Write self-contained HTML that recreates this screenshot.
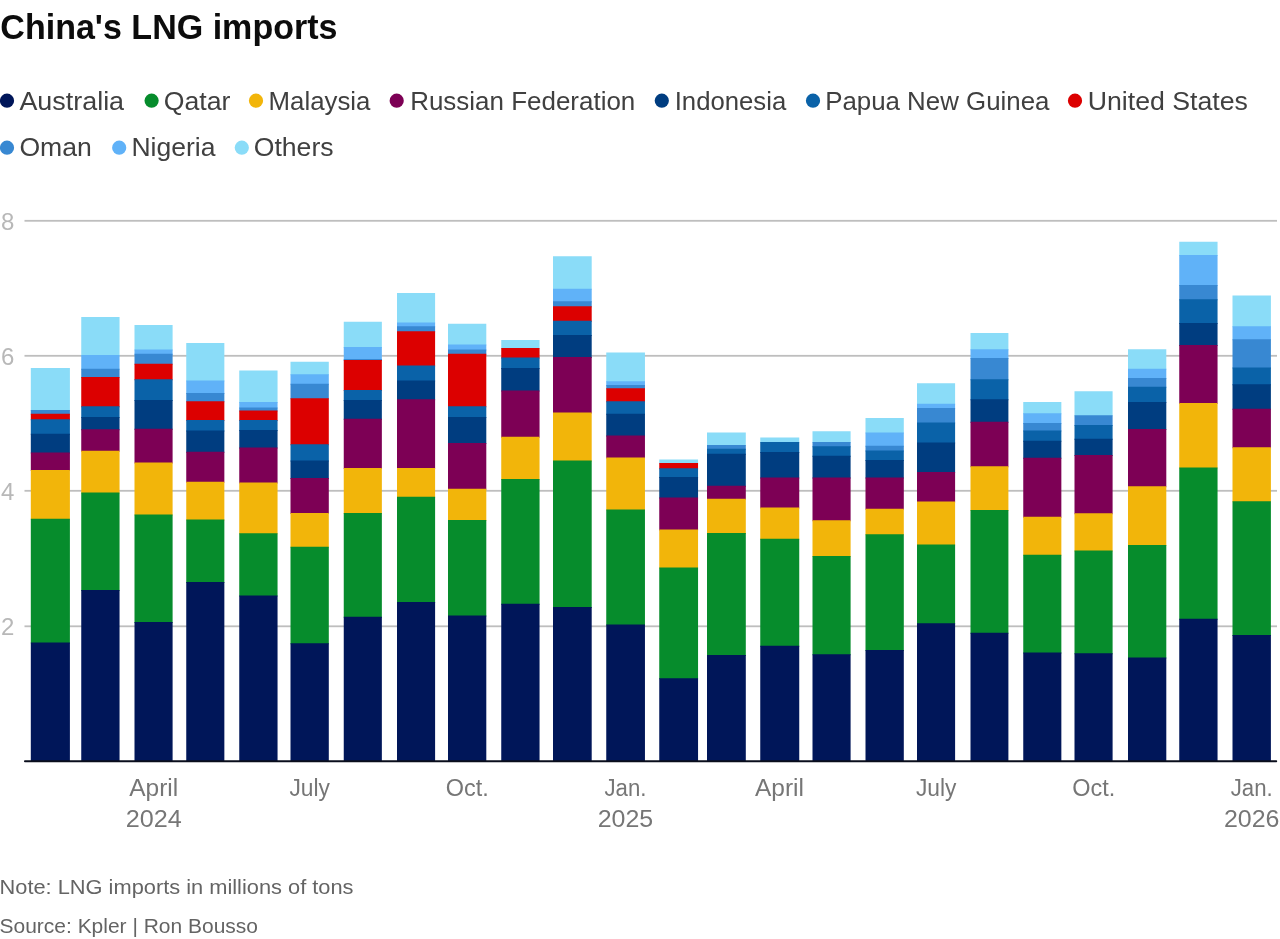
<!DOCTYPE html>
<html lang="en"><head><meta charset="utf-8"><title>China's LNG imports</title>
<style>
html,body{margin:0;padding:0;background:#fff;}
body{width:1280px;height:939px;overflow:hidden;font-family:"Liberation Sans",sans-serif;}
svg{display:block;}
svg text{font-family:"Liberation Sans",sans-serif;}
.title{font-size:34.5px;font-weight:700;fill:#0c0c0c;}
.lg{font-size:25px;fill:#404040;}
.yl{font-size:24px;fill:#b8b8b8;}
.xl{font-size:23px;fill:#767676;text-anchor:middle;}
.nt{font-size:20px;fill:#646464;}
</style></head><body>
<svg width="1280" height="939" viewBox="0 0 1280 939">
<rect x="0" y="0" width="1280" height="939" fill="#ffffff"/>
<text class="title" x="0.3" y="39.4" textLength="337.2" lengthAdjust="spacingAndGlyphs">China's LNG imports</text>
<circle cx="7" cy="100.7" r="7.1" fill="#001659"/>
<text class="lg" x="19.4" y="109.6" textLength="104.7" lengthAdjust="spacingAndGlyphs">Australia</text>
<circle cx="151.6" cy="100.7" r="7.1" fill="#068c2c"/>
<text class="lg" x="163.7" y="109.6" textLength="66.7" lengthAdjust="spacingAndGlyphs">Qatar</text>
<circle cx="256" cy="100.7" r="7.1" fill="#f2b50a"/>
<text class="lg" x="268.6" y="109.6" textLength="101.8" lengthAdjust="spacingAndGlyphs">Malaysia</text>
<circle cx="396.7" cy="100.7" r="7.1" fill="#7d0055"/>
<text class="lg" x="410.2" y="109.6" textLength="225.1" lengthAdjust="spacingAndGlyphs">Russian Federation</text>
<circle cx="661.8" cy="100.7" r="7.1" fill="#003d80"/>
<text class="lg" x="674.7" y="109.6" textLength="111.5" lengthAdjust="spacingAndGlyphs">Indonesia</text>
<circle cx="813" cy="100.7" r="7.1" fill="#0a62a8"/>
<text class="lg" x="825.2" y="109.6" textLength="224.2" lengthAdjust="spacingAndGlyphs">Papua New Guinea</text>
<circle cx="1075" cy="100.7" r="7.1" fill="#dc0000"/>
<text class="lg" x="1087.7" y="109.6" textLength="160.2" lengthAdjust="spacingAndGlyphs">United States</text>
<circle cx="7" cy="147.7" r="7.1" fill="#3888d2"/>
<text class="lg" x="19.4" y="156.4" textLength="72.4" lengthAdjust="spacingAndGlyphs">Oman</text>
<circle cx="119.2" cy="147.7" r="7.1" fill="#60b2f8"/>
<text class="lg" x="131.4" y="156.4" textLength="84.0" lengthAdjust="spacingAndGlyphs">Nigeria</text>
<circle cx="241.8" cy="147.7" r="7.1" fill="#8adcf8"/>
<text class="lg" x="253.7" y="156.4" textLength="79.9" lengthAdjust="spacingAndGlyphs">Others</text>
<rect x="24.5" y="219.9" width="1252.5" height="1.8" fill="#bebebe"/>
<text class="yl" x="1" y="229.6">8</text>
<rect x="24.5" y="354.9" width="1252.5" height="1.8" fill="#bebebe"/>
<text class="yl" x="1" y="364.6">6</text>
<rect x="24.5" y="489.9" width="1252.5" height="1.8" fill="#bebebe"/>
<text class="yl" x="1" y="499.6">4</text>
<rect x="24.5" y="625.4" width="1252.5" height="1.8" fill="#bebebe"/>
<text class="yl" x="1" y="635.1">2</text>
<g>
<rect x="30.8" y="368" width="39.1" height="43.00" fill="#8adcf8"/>
<rect x="30.8" y="410" width="39.1" height="4.75" fill="#3888d2"/>
<rect x="30.8" y="413.75" width="39.1" height="6.50" fill="#dc0000"/>
<rect x="30.8" y="419.25" width="39.1" height="15.50" fill="#0a62a8"/>
<rect x="30.8" y="433.75" width="39.1" height="19.75" fill="#003d80"/>
<rect x="30.8" y="452.5" width="39.1" height="18.50" fill="#7d0055"/>
<rect x="30.8" y="470" width="39.1" height="49.75" fill="#f2b50a"/>
<rect x="30.8" y="518.75" width="39.1" height="124.75" fill="#068c2c"/>
<rect x="30.8" y="642.5" width="39.1" height="118.50" fill="#001659"/>
</g>
<g>
<rect x="81.25" y="317" width="38.3" height="39.00" fill="#8adcf8"/>
<rect x="81.25" y="355" width="38.3" height="14.75" fill="#60b2f8"/>
<rect x="81.25" y="368.75" width="38.3" height="9.25" fill="#3888d2"/>
<rect x="81.25" y="377" width="38.3" height="30.25" fill="#dc0000"/>
<rect x="81.25" y="406.25" width="38.3" height="11.75" fill="#0a62a8"/>
<rect x="81.25" y="417" width="38.3" height="13.25" fill="#003d80"/>
<rect x="81.25" y="429.25" width="38.3" height="22.50" fill="#7d0055"/>
<rect x="81.25" y="450.75" width="38.3" height="42.75" fill="#f2b50a"/>
<rect x="81.25" y="492.5" width="38.3" height="98.50" fill="#068c2c"/>
<rect x="81.25" y="590" width="38.3" height="171.00" fill="#001659"/>
</g>
<g>
<rect x="134.5" y="325" width="38.1" height="25.50" fill="#8adcf8"/>
<rect x="134.5" y="349.5" width="38.1" height="5.25" fill="#60b2f8"/>
<rect x="134.5" y="353.75" width="38.1" height="11.00" fill="#3888d2"/>
<rect x="134.5" y="363.75" width="38.1" height="16.50" fill="#dc0000"/>
<rect x="134.5" y="379.25" width="38.1" height="21.75" fill="#0a62a8"/>
<rect x="134.5" y="400" width="38.1" height="29.75" fill="#003d80"/>
<rect x="134.5" y="428.75" width="38.1" height="34.75" fill="#7d0055"/>
<rect x="134.5" y="462.5" width="38.1" height="53.00" fill="#f2b50a"/>
<rect x="134.5" y="514.5" width="38.1" height="108.50" fill="#068c2c"/>
<rect x="134.5" y="622" width="38.1" height="139.00" fill="#001659"/>
</g>
<g>
<rect x="186.25" y="343" width="38.1" height="38.50" fill="#8adcf8"/>
<rect x="186.25" y="380.5" width="38.1" height="13.50" fill="#60b2f8"/>
<rect x="186.25" y="393" width="38.1" height="9.25" fill="#3888d2"/>
<rect x="186.25" y="401.25" width="38.1" height="19.75" fill="#dc0000"/>
<rect x="186.25" y="420" width="38.1" height="11.50" fill="#0a62a8"/>
<rect x="186.25" y="430.5" width="38.1" height="22.25" fill="#003d80"/>
<rect x="186.25" y="451.75" width="38.1" height="31.00" fill="#7d0055"/>
<rect x="186.25" y="481.75" width="38.1" height="38.75" fill="#f2b50a"/>
<rect x="186.25" y="519.5" width="38.1" height="63.50" fill="#068c2c"/>
<rect x="186.25" y="582" width="38.1" height="179.00" fill="#001659"/>
</g>
<g>
<rect x="239.25" y="370.5" width="38.3" height="32.50" fill="#8adcf8"/>
<rect x="239.25" y="402" width="38.3" height="6.50" fill="#60b2f8"/>
<rect x="239.25" y="407.5" width="38.3" height="4.00" fill="#3888d2"/>
<rect x="239.25" y="410.5" width="38.3" height="10.50" fill="#dc0000"/>
<rect x="239.25" y="420" width="38.3" height="11.00" fill="#0a62a8"/>
<rect x="239.25" y="430" width="38.3" height="18.50" fill="#003d80"/>
<rect x="239.25" y="447.5" width="38.3" height="36.00" fill="#7d0055"/>
<rect x="239.25" y="482.5" width="38.3" height="51.75" fill="#f2b50a"/>
<rect x="239.25" y="533.25" width="38.3" height="63.25" fill="#068c2c"/>
<rect x="239.25" y="595.5" width="38.3" height="165.50" fill="#001659"/>
</g>
<g>
<rect x="290.5" y="361.75" width="38.3" height="13.50" fill="#8adcf8"/>
<rect x="290.5" y="374.25" width="38.3" height="10.50" fill="#60b2f8"/>
<rect x="290.5" y="383.75" width="38.3" height="15.50" fill="#3888d2"/>
<rect x="290.5" y="398.25" width="38.3" height="47.00" fill="#dc0000"/>
<rect x="290.5" y="444.25" width="38.3" height="17.25" fill="#0a62a8"/>
<rect x="290.5" y="460.5" width="38.3" height="18.50" fill="#003d80"/>
<rect x="290.5" y="478" width="38.3" height="36.00" fill="#7d0055"/>
<rect x="290.5" y="513" width="38.3" height="34.75" fill="#f2b50a"/>
<rect x="290.5" y="546.75" width="38.3" height="97.50" fill="#068c2c"/>
<rect x="290.5" y="643.25" width="38.3" height="117.75" fill="#001659"/>
</g>
<g>
<rect x="343.75" y="321.75" width="38.1" height="26.25" fill="#8adcf8"/>
<rect x="343.75" y="347" width="38.1" height="13.00" fill="#60b2f8"/>
<rect x="343.75" y="359" width="38.1" height="2.00" fill="#3888d2"/>
<rect x="343.75" y="360" width="38.1" height="31.00" fill="#dc0000"/>
<rect x="343.75" y="390" width="38.1" height="11.00" fill="#0a62a8"/>
<rect x="343.75" y="400" width="38.1" height="19.75" fill="#003d80"/>
<rect x="343.75" y="418.75" width="38.1" height="50.25" fill="#7d0055"/>
<rect x="343.75" y="468" width="38.1" height="46.00" fill="#f2b50a"/>
<rect x="343.75" y="513" width="38.1" height="104.75" fill="#068c2c"/>
<rect x="343.75" y="616.75" width="38.1" height="144.25" fill="#001659"/>
</g>
<g>
<rect x="397" y="293" width="38.1" height="30.50" fill="#8adcf8"/>
<rect x="397" y="322.5" width="38.1" height="4.75" fill="#60b2f8"/>
<rect x="397" y="326.25" width="38.1" height="6.00" fill="#3888d2"/>
<rect x="397" y="331.25" width="38.1" height="35.25" fill="#dc0000"/>
<rect x="397" y="365.5" width="38.1" height="16.00" fill="#0a62a8"/>
<rect x="397" y="380.5" width="38.1" height="19.75" fill="#003d80"/>
<rect x="397" y="399.25" width="38.1" height="69.75" fill="#7d0055"/>
<rect x="397" y="468" width="38.1" height="29.75" fill="#f2b50a"/>
<rect x="397" y="496.75" width="38.1" height="106.25" fill="#068c2c"/>
<rect x="397" y="602" width="38.1" height="159.00" fill="#001659"/>
</g>
<g>
<rect x="448" y="323.75" width="38.3" height="21.75" fill="#8adcf8"/>
<rect x="448" y="344.5" width="38.3" height="6.00" fill="#60b2f8"/>
<rect x="448" y="349.5" width="38.3" height="5.25" fill="#3888d2"/>
<rect x="448" y="353.75" width="38.3" height="53.50" fill="#dc0000"/>
<rect x="448" y="406.25" width="38.3" height="11.75" fill="#0a62a8"/>
<rect x="448" y="417" width="38.3" height="27.00" fill="#003d80"/>
<rect x="448" y="443" width="38.3" height="46.75" fill="#7d0055"/>
<rect x="448" y="488.75" width="38.3" height="32.25" fill="#f2b50a"/>
<rect x="448" y="520" width="38.3" height="96.50" fill="#068c2c"/>
<rect x="448" y="615.5" width="38.3" height="145.50" fill="#001659"/>
</g>
<g>
<rect x="501.25" y="340" width="38.3" height="9.00" fill="#8adcf8"/>
<rect x="501.25" y="348" width="38.3" height="10.50" fill="#dc0000"/>
<rect x="501.25" y="357.5" width="38.3" height="11.50" fill="#0a62a8"/>
<rect x="501.25" y="368" width="38.3" height="23.50" fill="#003d80"/>
<rect x="501.25" y="390.5" width="38.3" height="47.25" fill="#7d0055"/>
<rect x="501.25" y="436.75" width="38.3" height="43.25" fill="#f2b50a"/>
<rect x="501.25" y="479" width="38.3" height="125.75" fill="#068c2c"/>
<rect x="501.25" y="603.75" width="38.3" height="157.25" fill="#001659"/>
</g>
<g>
<rect x="553" y="256.25" width="38.7" height="33.50" fill="#8adcf8"/>
<rect x="553" y="288.75" width="38.7" height="13.50" fill="#60b2f8"/>
<rect x="553" y="301.25" width="38.7" height="6.00" fill="#3888d2"/>
<rect x="553" y="306.25" width="38.7" height="15.50" fill="#dc0000"/>
<rect x="553" y="320.75" width="38.7" height="15.25" fill="#0a62a8"/>
<rect x="553" y="335" width="38.7" height="23.00" fill="#003d80"/>
<rect x="553" y="357" width="38.7" height="56.50" fill="#7d0055"/>
<rect x="553" y="412.5" width="38.7" height="49.00" fill="#f2b50a"/>
<rect x="553" y="460.5" width="38.7" height="147.50" fill="#068c2c"/>
<rect x="553" y="607" width="38.7" height="154.00" fill="#001659"/>
</g>
<g>
<rect x="606.25" y="352.5" width="38.7" height="29.75" fill="#8adcf8"/>
<rect x="606.25" y="381.25" width="38.7" height="4.75" fill="#60b2f8"/>
<rect x="606.25" y="385" width="38.7" height="4.25" fill="#3888d2"/>
<rect x="606.25" y="388.25" width="38.7" height="14.00" fill="#dc0000"/>
<rect x="606.25" y="401.25" width="38.7" height="13.50" fill="#0a62a8"/>
<rect x="606.25" y="413.75" width="38.7" height="22.75" fill="#003d80"/>
<rect x="606.25" y="435.5" width="38.7" height="23.00" fill="#7d0055"/>
<rect x="606.25" y="457.5" width="38.7" height="53.00" fill="#f2b50a"/>
<rect x="606.25" y="509.5" width="38.7" height="116.00" fill="#068c2c"/>
<rect x="606.25" y="624.5" width="38.7" height="136.50" fill="#001659"/>
</g>
<g>
<rect x="659.25" y="459.5" width="38.8" height="4.50" fill="#8adcf8"/>
<rect x="659.25" y="463" width="38.8" height="6.25" fill="#dc0000"/>
<rect x="659.25" y="468.25" width="38.8" height="9.75" fill="#0a62a8"/>
<rect x="659.25" y="477" width="38.8" height="21.50" fill="#003d80"/>
<rect x="659.25" y="497.5" width="38.8" height="33.00" fill="#7d0055"/>
<rect x="659.25" y="529.5" width="38.8" height="39.00" fill="#f2b50a"/>
<rect x="659.25" y="567.5" width="38.8" height="111.75" fill="#068c2c"/>
<rect x="659.25" y="678.25" width="38.8" height="82.75" fill="#001659"/>
</g>
<g>
<rect x="707" y="432.5" width="38.8" height="13.50" fill="#8adcf8"/>
<rect x="707" y="445" width="38.8" height="4.75" fill="#3888d2"/>
<rect x="707" y="448.75" width="38.8" height="6.00" fill="#0a62a8"/>
<rect x="707" y="453.75" width="38.8" height="33.00" fill="#003d80"/>
<rect x="707" y="485.75" width="38.8" height="14.00" fill="#7d0055"/>
<rect x="707" y="498.75" width="38.8" height="35.25" fill="#f2b50a"/>
<rect x="707" y="533" width="38.8" height="123.00" fill="#068c2c"/>
<rect x="707" y="655" width="38.8" height="106.00" fill="#001659"/>
</g>
<g>
<rect x="760.25" y="437.5" width="39.0" height="5.50" fill="#8adcf8"/>
<rect x="760.25" y="442" width="39.0" height="11.00" fill="#0a62a8"/>
<rect x="760.25" y="452" width="39.0" height="26.50" fill="#003d80"/>
<rect x="760.25" y="477.5" width="39.0" height="31.00" fill="#7d0055"/>
<rect x="760.25" y="507.5" width="39.0" height="32.25" fill="#f2b50a"/>
<rect x="760.25" y="538.75" width="39.0" height="108.00" fill="#068c2c"/>
<rect x="760.25" y="645.75" width="39.0" height="115.25" fill="#001659"/>
</g>
<g>
<rect x="812.5" y="431.25" width="38.1" height="11.75" fill="#8adcf8"/>
<rect x="812.5" y="442" width="38.1" height="5.25" fill="#3888d2"/>
<rect x="812.5" y="446.25" width="38.1" height="10.50" fill="#0a62a8"/>
<rect x="812.5" y="455.75" width="38.1" height="22.75" fill="#003d80"/>
<rect x="812.5" y="477.5" width="38.1" height="43.75" fill="#7d0055"/>
<rect x="812.5" y="520.25" width="38.1" height="36.75" fill="#f2b50a"/>
<rect x="812.5" y="556" width="38.1" height="99.25" fill="#068c2c"/>
<rect x="812.5" y="654.25" width="38.1" height="106.75" fill="#001659"/>
</g>
<g>
<rect x="865.5" y="418" width="38.3" height="15.50" fill="#8adcf8"/>
<rect x="865.5" y="432.5" width="38.3" height="14.25" fill="#60b2f8"/>
<rect x="865.5" y="445.75" width="38.3" height="5.75" fill="#3888d2"/>
<rect x="865.5" y="450.5" width="38.3" height="10.50" fill="#0a62a8"/>
<rect x="865.5" y="460" width="38.3" height="18.50" fill="#003d80"/>
<rect x="865.5" y="477.5" width="38.3" height="32.25" fill="#7d0055"/>
<rect x="865.5" y="508.75" width="38.3" height="26.50" fill="#f2b50a"/>
<rect x="865.5" y="534.25" width="38.3" height="116.75" fill="#068c2c"/>
<rect x="865.5" y="650" width="38.3" height="111.00" fill="#001659"/>
</g>
<g>
<rect x="917" y="383.25" width="38.1" height="21.50" fill="#8adcf8"/>
<rect x="917" y="403.75" width="38.1" height="5.25" fill="#60b2f8"/>
<rect x="917" y="408" width="38.1" height="15.50" fill="#3888d2"/>
<rect x="917" y="422.5" width="38.1" height="21.00" fill="#0a62a8"/>
<rect x="917" y="442.5" width="38.1" height="30.50" fill="#003d80"/>
<rect x="917" y="472" width="38.1" height="30.50" fill="#7d0055"/>
<rect x="917" y="501.5" width="38.1" height="44.00" fill="#f2b50a"/>
<rect x="917" y="544.5" width="38.1" height="79.75" fill="#068c2c"/>
<rect x="917" y="623.25" width="38.1" height="137.75" fill="#001659"/>
</g>
<g>
<rect x="970.5" y="333" width="37.9" height="17.25" fill="#8adcf8"/>
<rect x="970.5" y="349.25" width="37.9" height="9.75" fill="#60b2f8"/>
<rect x="970.5" y="358" width="37.9" height="22.25" fill="#3888d2"/>
<rect x="970.5" y="379.25" width="37.9" height="21.00" fill="#0a62a8"/>
<rect x="970.5" y="399.25" width="37.9" height="23.50" fill="#003d80"/>
<rect x="970.5" y="421.75" width="37.9" height="45.50" fill="#7d0055"/>
<rect x="970.5" y="466.25" width="37.9" height="44.75" fill="#f2b50a"/>
<rect x="970.5" y="510" width="37.9" height="123.75" fill="#068c2c"/>
<rect x="970.5" y="632.75" width="37.9" height="128.25" fill="#001659"/>
</g>
<g>
<rect x="1023.25" y="402" width="38.1" height="12.25" fill="#8adcf8"/>
<rect x="1023.25" y="413.25" width="38.1" height="10.75" fill="#60b2f8"/>
<rect x="1023.25" y="423" width="38.1" height="8.50" fill="#3888d2"/>
<rect x="1023.25" y="430.5" width="38.1" height="11.25" fill="#0a62a8"/>
<rect x="1023.25" y="440.75" width="38.1" height="18.00" fill="#003d80"/>
<rect x="1023.25" y="457.75" width="38.1" height="60.00" fill="#7d0055"/>
<rect x="1023.25" y="516.75" width="38.1" height="39.00" fill="#f2b50a"/>
<rect x="1023.25" y="554.75" width="38.1" height="98.75" fill="#068c2c"/>
<rect x="1023.25" y="652.5" width="38.1" height="108.50" fill="#001659"/>
</g>
<g>
<rect x="1074.5" y="391.25" width="38.1" height="25.00" fill="#8adcf8"/>
<rect x="1074.5" y="415.25" width="38.1" height="10.75" fill="#3888d2"/>
<rect x="1074.5" y="425" width="38.1" height="14.75" fill="#0a62a8"/>
<rect x="1074.5" y="438.75" width="38.1" height="17.25" fill="#003d80"/>
<rect x="1074.5" y="455" width="38.1" height="59.25" fill="#7d0055"/>
<rect x="1074.5" y="513.25" width="38.1" height="38.25" fill="#f2b50a"/>
<rect x="1074.5" y="550.5" width="38.1" height="103.75" fill="#068c2c"/>
<rect x="1074.5" y="653.25" width="38.1" height="107.75" fill="#001659"/>
</g>
<g>
<rect x="1128" y="349.25" width="38.3" height="20.50" fill="#8adcf8"/>
<rect x="1128" y="368.75" width="38.3" height="10.25" fill="#60b2f8"/>
<rect x="1128" y="378" width="38.3" height="9.75" fill="#3888d2"/>
<rect x="1128" y="386.75" width="38.3" height="16.25" fill="#0a62a8"/>
<rect x="1128" y="402" width="38.3" height="28.00" fill="#003d80"/>
<rect x="1128" y="429" width="38.3" height="58.25" fill="#7d0055"/>
<rect x="1128" y="486.25" width="38.3" height="59.75" fill="#f2b50a"/>
<rect x="1128" y="545" width="38.3" height="113.50" fill="#068c2c"/>
<rect x="1128" y="657.5" width="38.3" height="103.50" fill="#001659"/>
</g>
<g>
<rect x="1179.25" y="241.75" width="38.3" height="14.25" fill="#8adcf8"/>
<rect x="1179.25" y="255" width="38.3" height="31.00" fill="#60b2f8"/>
<rect x="1179.25" y="285" width="38.3" height="15.25" fill="#3888d2"/>
<rect x="1179.25" y="299.25" width="38.3" height="24.75" fill="#0a62a8"/>
<rect x="1179.25" y="323" width="38.3" height="23.00" fill="#003d80"/>
<rect x="1179.25" y="345" width="38.3" height="59.00" fill="#7d0055"/>
<rect x="1179.25" y="403" width="38.3" height="65.50" fill="#f2b50a"/>
<rect x="1179.25" y="467.5" width="38.3" height="152.25" fill="#068c2c"/>
<rect x="1179.25" y="618.75" width="38.3" height="142.25" fill="#001659"/>
</g>
<g>
<rect x="1232.5" y="295.5" width="38.4" height="31.75" fill="#8adcf8"/>
<rect x="1232.5" y="326.25" width="38.4" height="14.00" fill="#60b2f8"/>
<rect x="1232.5" y="339.25" width="38.4" height="29.25" fill="#3888d2"/>
<rect x="1232.5" y="367.5" width="38.4" height="17.75" fill="#0a62a8"/>
<rect x="1232.5" y="384.25" width="38.4" height="25.50" fill="#003d80"/>
<rect x="1232.5" y="408.75" width="38.4" height="39.50" fill="#7d0055"/>
<rect x="1232.5" y="447.25" width="38.4" height="55.00" fill="#f2b50a"/>
<rect x="1232.5" y="501.25" width="38.4" height="134.75" fill="#068c2c"/>
<rect x="1232.5" y="635" width="38.4" height="126.00" fill="#001659"/>
</g>
<rect x="24" y="760.3" width="1253.2" height="1.9" rx="0.9" fill="#0a0e1c"/>
<text class="xl" x="153.7" y="795.8" textLength="49" lengthAdjust="spacingAndGlyphs">April</text>
<text class="xl" x="153.7" y="826.8" textLength="56" lengthAdjust="spacingAndGlyphs">2024</text>
<text class="xl" x="309.7" y="795.8" textLength="40.5" lengthAdjust="spacingAndGlyphs">July</text>
<text class="xl" x="467.2" y="795.8" textLength="43" lengthAdjust="spacingAndGlyphs">Oct.</text>
<text class="xl" x="625.5" y="795.8" textLength="42" lengthAdjust="spacingAndGlyphs">Jan.</text>
<text class="xl" x="625.5" y="826.8" textLength="55.5" lengthAdjust="spacingAndGlyphs">2025</text>
<text class="xl" x="779.5" y="795.8" textLength="49" lengthAdjust="spacingAndGlyphs">April</text>
<text class="xl" x="936.2" y="795.8" textLength="40.5" lengthAdjust="spacingAndGlyphs">July</text>
<text class="xl" x="1093.7" y="795.8" textLength="43" lengthAdjust="spacingAndGlyphs">Oct.</text>
<text class="xl" x="1251.7" y="795.8" textLength="42" lengthAdjust="spacingAndGlyphs">Jan.</text>
<text class="xl" x="1251.7" y="826.8" textLength="55.5" lengthAdjust="spacingAndGlyphs">2026</text>
<text class="nt" x="-0.5" y="893.8" textLength="354" lengthAdjust="spacingAndGlyphs">Note: LNG imports in millions of tons</text>
<text class="nt" x="-0.5" y="933.4" textLength="258.5" lengthAdjust="spacingAndGlyphs">Source: Kpler | Ron Bousso</text>
</svg>
</body></html>
